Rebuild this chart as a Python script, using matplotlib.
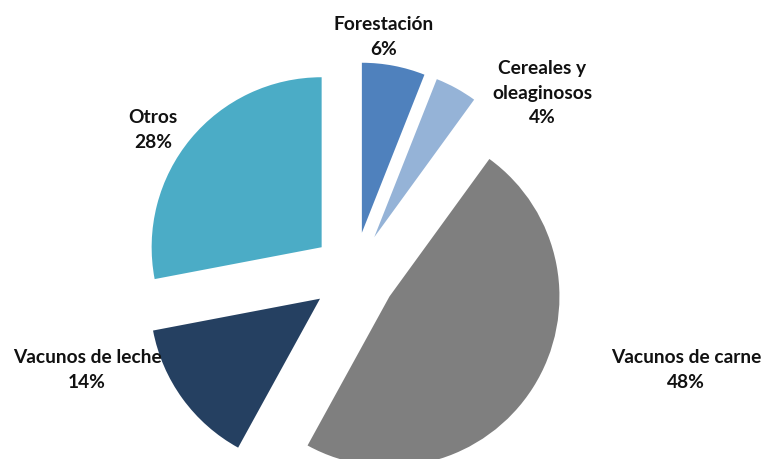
import matplotlib.pyplot as plt

labels = ["Forestación", "Cereales y\noleaginosos", "Vacunos de carne", "Vacunos de leche", "Otros"]
shares = [6, 4, 48, 14, 28]
colors = ["#4F81BD", "#95B3D7", "#7F7F7F", "#254061", "#4BACC6"]

W, H = 762, 460
R = 170.0  # pie radius in pixels
cx, cy = 354, 275  # pie centre, pixels from top-left

fig = plt.figure(figsize=(W / 100, H / 100), dpi=100)
ax = fig.add_axes([0, 0, 1, 1])
ax.pie(shares, colors=colors, startangle=90, counterclock=False,
       explode=[0.247] * len(shares), radius=1,
       wedgeprops={"linewidth": 0})
ax.set_xlim(-cx / R, (W - cx) / R)
ax.set_ylim(-(H - cy) / R, cy / R)
ax.set_aspect("equal")
ax.axis("off")

# label block centres (pixels from top-left)
label_pos = [(384, 37), (542, 93), (686, 370), (87, 370), (153, 130)]
for lab, val, (x, y) in zip(labels, shares, label_pos):
    fig.text(x / W, 1 - y / H, f"{lab}\n{val}%", ha="center", va="center",
             multialignment="center", fontsize=13.8, fontweight="bold",
             family="Lato", color="#111111", linespacing=1.55)

fig.savefig("out.png", dpi=100)
